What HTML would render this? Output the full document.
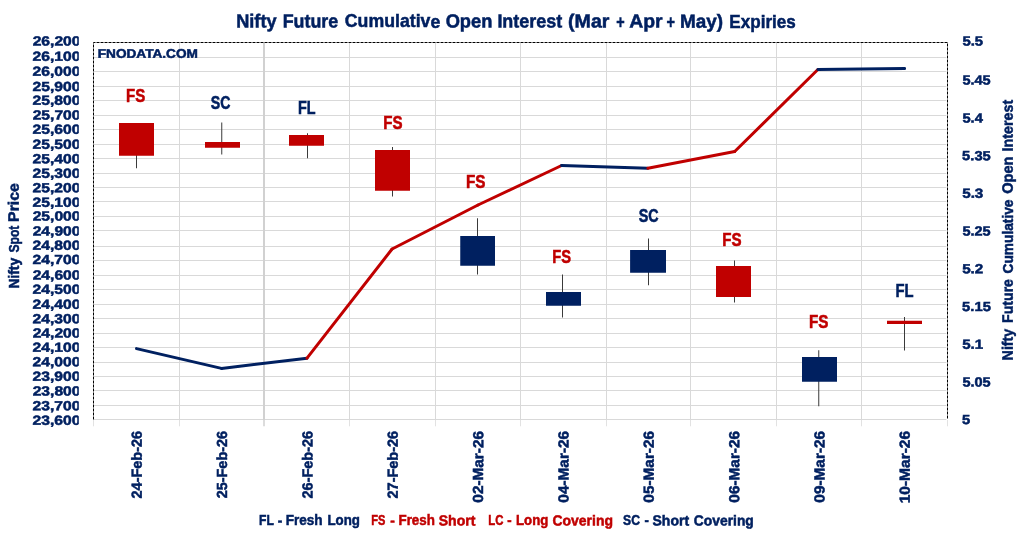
<!DOCTYPE html>
<html lang="en"><head><meta charset="utf-8"><title>Nifty Future Cumulative Open Interest</title>
<style>html,body{margin:0;padding:0;background:#fff;overflow:hidden}svg{display:block}text{white-space:pre}</style></head>
<body>
<svg width="1024" height="538" viewBox="0 0 1024 538">
<defs><clipPath id="lclip"><rect x="0" y="0" width="78.8" height="538"/></clipPath></defs>
<rect width="1024" height="538" fill="#fff"/>
<line x1="94" x2="946.3" y1="57.5" y2="57.5" stroke="#D9D9D9" stroke-width="1"/>
<line x1="94" x2="946.3" y1="71.5" y2="71.5" stroke="#D9D9D9" stroke-width="1"/>
<line x1="94" x2="946.3" y1="86.5" y2="86.5" stroke="#D9D9D9" stroke-width="1"/>
<line x1="94" x2="946.3" y1="100.5" y2="100.5" stroke="#D9D9D9" stroke-width="1"/>
<line x1="94" x2="946.3" y1="115.5" y2="115.5" stroke="#D9D9D9" stroke-width="1"/>
<line x1="94" x2="946.3" y1="129.5" y2="129.5" stroke="#D9D9D9" stroke-width="1"/>
<line x1="94" x2="946.3" y1="144.5" y2="144.5" stroke="#D9D9D9" stroke-width="1"/>
<line x1="94" x2="946.3" y1="158.5" y2="158.5" stroke="#D9D9D9" stroke-width="1"/>
<line x1="94" x2="946.3" y1="173.5" y2="173.5" stroke="#D9D9D9" stroke-width="1"/>
<line x1="94" x2="946.3" y1="187.5" y2="187.5" stroke="#D9D9D9" stroke-width="1"/>
<line x1="94" x2="946.3" y1="201.5" y2="201.5" stroke="#D9D9D9" stroke-width="1"/>
<line x1="94" x2="946.3" y1="216.5" y2="216.5" stroke="#D9D9D9" stroke-width="1"/>
<line x1="94" x2="946.3" y1="230.5" y2="230.5" stroke="#D9D9D9" stroke-width="1"/>
<line x1="94" x2="946.3" y1="246.5" y2="246.5" stroke="#D9D9D9" stroke-width="1"/>
<line x1="94" x2="946.3" y1="260.5" y2="260.5" stroke="#D9D9D9" stroke-width="1"/>
<line x1="94" x2="946.3" y1="275.5" y2="275.5" stroke="#D9D9D9" stroke-width="1"/>
<line x1="94" x2="946.3" y1="289.5" y2="289.5" stroke="#D9D9D9" stroke-width="1"/>
<line x1="94" x2="946.3" y1="304.5" y2="304.5" stroke="#D9D9D9" stroke-width="1"/>
<line x1="94" x2="946.3" y1="318.5" y2="318.5" stroke="#D9D9D9" stroke-width="1"/>
<line x1="94" x2="946.3" y1="333.5" y2="333.5" stroke="#D9D9D9" stroke-width="1"/>
<line x1="94" x2="946.3" y1="347.5" y2="347.5" stroke="#D9D9D9" stroke-width="1"/>
<line x1="94" x2="946.3" y1="362.5" y2="362.5" stroke="#D9D9D9" stroke-width="1"/>
<line x1="94" x2="946.3" y1="376.5" y2="376.5" stroke="#D9D9D9" stroke-width="1"/>
<line x1="94" x2="946.3" y1="390.5" y2="390.5" stroke="#D9D9D9" stroke-width="1"/>
<line x1="94" x2="946.3" y1="405.5" y2="405.5" stroke="#D9D9D9" stroke-width="1"/>
<line x1="94" x2="946.3" y1="419.5" y2="419.5" stroke="#D9D9D9" stroke-width="1"/>
<line x1="93.5" x2="93.5" y1="420" y2="426.3" stroke="#E2E2E2" stroke-width="1"/>
<line x1="179.5" x2="179.5" y1="43" y2="420" stroke="#D9D9D9" stroke-width="1"/>
<line x1="179.5" x2="179.5" y1="420" y2="426.3" stroke="#E2E2E2" stroke-width="1"/>
<line x1="264.0" x2="264.0" y1="43" y2="420" stroke="#D1D1D1" stroke-width="2"/>
<line x1="264.0" x2="264.0" y1="420" y2="426.3" stroke="#DCDCDC" stroke-width="2"/>
<line x1="349.5" x2="349.5" y1="43" y2="420" stroke="#D9D9D9" stroke-width="1"/>
<line x1="349.5" x2="349.5" y1="420" y2="426.3" stroke="#E2E2E2" stroke-width="1"/>
<line x1="435.5" x2="435.5" y1="43" y2="420" stroke="#D9D9D9" stroke-width="1"/>
<line x1="435.5" x2="435.5" y1="420" y2="426.3" stroke="#E2E2E2" stroke-width="1"/>
<line x1="520.5" x2="520.5" y1="43" y2="420" stroke="#D9D9D9" stroke-width="1"/>
<line x1="520.5" x2="520.5" y1="420" y2="426.3" stroke="#E2E2E2" stroke-width="1"/>
<line x1="606.5" x2="606.5" y1="43" y2="420" stroke="#D9D9D9" stroke-width="1"/>
<line x1="606.5" x2="606.5" y1="420" y2="426.3" stroke="#E2E2E2" stroke-width="1"/>
<line x1="690.5" x2="690.5" y1="43" y2="420" stroke="#D9D9D9" stroke-width="1"/>
<line x1="690.5" x2="690.5" y1="420" y2="426.3" stroke="#E2E2E2" stroke-width="1"/>
<line x1="776.5" x2="776.5" y1="43" y2="420" stroke="#D9D9D9" stroke-width="1"/>
<line x1="776.5" x2="776.5" y1="420" y2="426.3" stroke="#E2E2E2" stroke-width="1"/>
<line x1="861.5" x2="861.5" y1="43" y2="420" stroke="#D9D9D9" stroke-width="1"/>
<line x1="861.5" x2="861.5" y1="420" y2="426.3" stroke="#E2E2E2" stroke-width="1"/>
<line x1="947.5" x2="947.5" y1="420" y2="426.3" stroke="#E2E2E2" stroke-width="1"/>
<path d="M93.5 419.5 V42.5 H947.5 V419.5" fill="none" stroke="#000" stroke-width="1" stroke-dasharray="3 1"/>
<line x1="136.5" y1="348.6" x2="221.5" y2="368.4" stroke="#002060" stroke-width="3" stroke-linecap="round"/>
<line x1="221.5" y1="368.4" x2="307.0" y2="358.2" stroke="#002060" stroke-width="3" stroke-linecap="round"/>
<line x1="307.0" y1="358.2" x2="392.1" y2="249" stroke="#C00000" stroke-width="3" stroke-linecap="round"/>
<line x1="392.1" y1="249" x2="478" y2="205" stroke="#C00000" stroke-width="3" stroke-linecap="round"/>
<line x1="478" y1="205" x2="561.6" y2="165.5" stroke="#C00000" stroke-width="3" stroke-linecap="round"/>
<line x1="561.6" y1="165.5" x2="647.9" y2="168.3" stroke="#002060" stroke-width="3" stroke-linecap="round"/>
<line x1="647.9" y1="168.3" x2="734.7" y2="151.5" stroke="#C00000" stroke-width="3" stroke-linecap="round"/>
<line x1="734.7" y1="151.5" x2="817.9" y2="69.5" stroke="#C00000" stroke-width="3" stroke-linecap="round"/>
<line x1="817.9" y1="69.5" x2="904.6" y2="68.4" stroke="#002060" stroke-width="3" stroke-linecap="round"/>
<line x1="136.5" x2="136.5" y1="123" y2="168.25" stroke="#3a3a3a" stroke-width="1"/>
<rect x="119" y="123" width="35" height="32.75" fill="#C00000"/>
<line x1="221.75" x2="221.75" y1="122.5" y2="154.5" stroke="#3a3a3a" stroke-width="1"/>
<rect x="205" y="142" width="35" height="5.75" fill="#C00000"/>
<line x1="307.5" x2="307.5" y1="133.25" y2="158.25" stroke="#3a3a3a" stroke-width="1"/>
<rect x="289" y="135" width="35" height="10.75" fill="#C00000"/>
<line x1="392.5" x2="392.5" y1="147" y2="196.5" stroke="#3a3a3a" stroke-width="1"/>
<rect x="375" y="150" width="35" height="40.75" fill="#C00000"/>
<line x1="477.5" x2="477.5" y1="218.25" y2="274.5" stroke="#3a3a3a" stroke-width="1"/>
<rect x="460.25" y="236" width="34.75" height="29.75" fill="#002060"/>
<line x1="562.5" x2="562.5" y1="274.5" y2="317.5" stroke="#3a3a3a" stroke-width="1"/>
<rect x="546" y="292" width="35" height="13.75" fill="#002060"/>
<line x1="648.5" x2="648.5" y1="238.5" y2="285.25" stroke="#3a3a3a" stroke-width="1"/>
<rect x="630.1" y="250" width="35.89999999999998" height="22.75" fill="#002060"/>
<line x1="734.5" x2="734.5" y1="260.5" y2="302.5" stroke="#3a3a3a" stroke-width="1"/>
<rect x="716" y="266" width="35" height="31" fill="#C00000"/>
<line x1="818.75" x2="818.75" y1="350.25" y2="406.25" stroke="#3a3a3a" stroke-width="1"/>
<rect x="802" y="357" width="35" height="24.75" fill="#002060"/>
<line x1="904.5" x2="904.5" y1="317" y2="350.5" stroke="#3a3a3a" stroke-width="1"/>
<rect x="887" y="320.75" width="35" height="3.25" fill="#C00000"/>
<g font-family="Liberation Sans, Arial, sans-serif" font-weight="bold">
<text transform="translate(516.1,27.55) skewY(0.03)" font-size="19.0" fill="#002060" stroke="#002060" stroke-width="0.5"><tspan x="-279.96" textLength="40.43" lengthAdjust="spacingAndGlyphs">Nifty</tspan> <tspan x="-233.47" textLength="55.59" lengthAdjust="spacingAndGlyphs">Future</tspan> <tspan x="-171.28" textLength="95.47" lengthAdjust="spacingAndGlyphs">Cumulative</tspan> <tspan x="-70.46" textLength="46.75" lengthAdjust="spacingAndGlyphs">Open</tspan> <tspan x="-18.73" textLength="64.92" lengthAdjust="spacingAndGlyphs">Interest</tspan> <tspan x="51.96" textLength="41.47" lengthAdjust="spacingAndGlyphs">(Mar</tspan> <tspan x="100.16" textLength="8.42" lengthAdjust="spacingAndGlyphs">+</tspan> <tspan x="113.17" textLength="33.43" lengthAdjust="spacingAndGlyphs">Apr</tspan> <tspan x="150.52" textLength="8.48" lengthAdjust="spacingAndGlyphs">+</tspan> <tspan x="163.89" textLength="43.14" lengthAdjust="spacingAndGlyphs">May)</tspan> <tspan x="213.27" textLength="66.46" lengthAdjust="spacingAndGlyphs">Expiries</tspan></text>
<text transform="translate(147.8,57.70) skewY(0.03)" font-size="12.4" fill="#002060" stroke="#002060" stroke-width="0.5"><tspan x="-50.00" textLength="100.03" lengthAdjust="spacingAndGlyphs">FNODATA.COM</tspan></text>
<text transform="translate(135.9,101.85) skewY(0.03)" font-size="18.0" fill="#C00000" stroke="#C00000" stroke-width="0.55"><tspan x="-9.79" textLength="19.17" lengthAdjust="spacingAndGlyphs">FS</tspan></text>
<text transform="translate(220.4,109.45) skewY(0.03)" font-size="18.0" fill="#002060" stroke="#002060" stroke-width="0.55"><tspan x="-9.71" textLength="19.65" lengthAdjust="spacingAndGlyphs">SC</tspan></text>
<text transform="translate(307.1,114.00) skewY(0.03)" font-size="18.0" fill="#002060" stroke="#002060" stroke-width="0.55"><tspan x="-9.20" textLength="17.58" lengthAdjust="spacingAndGlyphs">FL</tspan></text>
<text transform="translate(393.1,129.15) skewY(0.03)" font-size="18.0" fill="#C00000" stroke="#C00000" stroke-width="0.55"><tspan x="-9.88" textLength="19.26" lengthAdjust="spacingAndGlyphs">FS</tspan></text>
<text transform="translate(475.8,187.90) skewY(0.03)" font-size="18.0" fill="#C00000" stroke="#C00000" stroke-width="0.55"><tspan x="-9.82" textLength="19.52" lengthAdjust="spacingAndGlyphs">FS</tspan></text>
<text transform="translate(561.8,263.15) skewY(0.03)" font-size="18.0" fill="#C00000" stroke="#C00000" stroke-width="0.55"><tspan x="-9.58" textLength="18.74" lengthAdjust="spacingAndGlyphs">FS</tspan></text>
<text transform="translate(648.6,222.45) skewY(0.03)" font-size="18.0" fill="#002060" stroke="#002060" stroke-width="0.55"><tspan x="-9.94" textLength="19.88" lengthAdjust="spacingAndGlyphs">SC</tspan></text>
<text transform="translate(732.0,245.75) skewY(0.03)" font-size="18.0" fill="#C00000" stroke="#C00000" stroke-width="0.55"><tspan x="-9.77" textLength="19.31" lengthAdjust="spacingAndGlyphs">FS</tspan></text>
<text transform="translate(819.0,328.15) skewY(0.03)" font-size="18.0" fill="#C00000" stroke="#C00000" stroke-width="0.55"><tspan x="-10.00" textLength="19.44" lengthAdjust="spacingAndGlyphs">FS</tspan></text>
<text transform="translate(904.7,297.00) skewY(0.03)" font-size="18.0" fill="#002060" stroke="#002060" stroke-width="0.55"><tspan x="-9.28" textLength="18.06" lengthAdjust="spacingAndGlyphs">FL</tspan></text>
<g clip-path="url(#lclip)"><text transform="translate(56.7,45.55) skewY(0.03)" font-size="13.2" fill="#002060" stroke="#002060" stroke-width="0.5"><tspan x="-24.02" textLength="47.80" lengthAdjust="spacingAndGlyphs">26,200</tspan></text></g>
<g clip-path="url(#lclip)"><text transform="translate(56.7,60.65) skewY(0.03)" font-size="13.2" fill="#002060" stroke="#002060" stroke-width="0.5"><tspan x="-24.18" textLength="47.80" lengthAdjust="spacingAndGlyphs">26,100</tspan></text></g>
<g clip-path="url(#lclip)"><text transform="translate(56.7,75.85) skewY(0.03)" font-size="13.2" fill="#002060" stroke="#002060" stroke-width="0.5"><tspan x="-24.18" textLength="47.80" lengthAdjust="spacingAndGlyphs">26,000</tspan></text></g>
<g clip-path="url(#lclip)"><text transform="translate(56.7,90.95) skewY(0.03)" font-size="13.2" fill="#002060" stroke="#002060" stroke-width="0.5"><tspan x="-24.17" textLength="47.80" lengthAdjust="spacingAndGlyphs">25,900</tspan></text></g>
<g clip-path="url(#lclip)"><text transform="translate(56.7,104.85) skewY(0.03)" font-size="13.2" fill="#002060" stroke="#002060" stroke-width="0.5"><tspan x="-24.18" textLength="47.80" lengthAdjust="spacingAndGlyphs">25,800</tspan></text></g>
<g clip-path="url(#lclip)"><text transform="translate(56.7,119.45) skewY(0.03)" font-size="13.2" fill="#002060" stroke="#002060" stroke-width="0.5"><tspan x="-24.02" textLength="47.80" lengthAdjust="spacingAndGlyphs">25,700</tspan></text></g>
<g clip-path="url(#lclip)"><text transform="translate(56.7,133.75) skewY(0.03)" font-size="13.2" fill="#002060" stroke="#002060" stroke-width="0.5"><tspan x="-24.18" textLength="47.80" lengthAdjust="spacingAndGlyphs">25,600</tspan></text></g>
<g clip-path="url(#lclip)"><text transform="translate(56.7,148.65) skewY(0.03)" font-size="13.2" fill="#002060" stroke="#002060" stroke-width="0.5"><tspan x="-24.18" textLength="47.80" lengthAdjust="spacingAndGlyphs">25,500</tspan></text></g>
<g clip-path="url(#lclip)"><text transform="translate(56.7,163.15) skewY(0.03)" font-size="13.2" fill="#002060" stroke="#002060" stroke-width="0.5"><tspan x="-24.18" textLength="47.80" lengthAdjust="spacingAndGlyphs">25,400</tspan></text></g>
<g clip-path="url(#lclip)"><text transform="translate(56.7,177.65) skewY(0.03)" font-size="13.2" fill="#002060" stroke="#002060" stroke-width="0.5"><tspan x="-24.18" textLength="47.80" lengthAdjust="spacingAndGlyphs">25,300</tspan></text></g>
<g clip-path="url(#lclip)"><text transform="translate(56.7,192.15) skewY(0.03)" font-size="13.2" fill="#002060" stroke="#002060" stroke-width="0.5"><tspan x="-24.18" textLength="47.80" lengthAdjust="spacingAndGlyphs">25,200</tspan></text></g>
<g clip-path="url(#lclip)"><text transform="translate(56.7,206.85) skewY(0.03)" font-size="13.2" fill="#002060" stroke="#002060" stroke-width="0.5"><tspan x="-24.18" textLength="47.80" lengthAdjust="spacingAndGlyphs">25,100</tspan></text></g>
<g clip-path="url(#lclip)"><text transform="translate(56.7,220.55) skewY(0.03)" font-size="13.2" fill="#002060" stroke="#002060" stroke-width="0.5"><tspan x="-24.02" textLength="47.80" lengthAdjust="spacingAndGlyphs">25,000</tspan></text></g>
<g clip-path="url(#lclip)"><text transform="translate(56.7,235.45) skewY(0.03)" font-size="13.2" fill="#002060" stroke="#002060" stroke-width="0.5"><tspan x="-24.02" textLength="47.80" lengthAdjust="spacingAndGlyphs">24,900</tspan></text></g>
<g clip-path="url(#lclip)"><text transform="translate(56.7,249.75) skewY(0.03)" font-size="13.2" fill="#002060" stroke="#002060" stroke-width="0.5"><tspan x="-24.18" textLength="47.80" lengthAdjust="spacingAndGlyphs">24,800</tspan></text></g>
<g clip-path="url(#lclip)"><text transform="translate(56.7,263.95) skewY(0.03)" font-size="13.2" fill="#002060" stroke="#002060" stroke-width="0.5"><tspan x="-24.17" textLength="47.80" lengthAdjust="spacingAndGlyphs">24,700</tspan></text></g>
<g clip-path="url(#lclip)"><text transform="translate(56.7,279.55) skewY(0.03)" font-size="13.2" fill="#002060" stroke="#002060" stroke-width="0.5"><tspan x="-24.02" textLength="47.80" lengthAdjust="spacingAndGlyphs">24,600</tspan></text></g>
<g clip-path="url(#lclip)"><text transform="translate(56.7,293.65) skewY(0.03)" font-size="13.2" fill="#002060" stroke="#002060" stroke-width="0.5"><tspan x="-24.18" textLength="47.80" lengthAdjust="spacingAndGlyphs">24,500</tspan></text></g>
<g clip-path="url(#lclip)"><text transform="translate(56.7,308.75) skewY(0.03)" font-size="13.2" fill="#002060" stroke="#002060" stroke-width="0.5"><tspan x="-24.18" textLength="47.80" lengthAdjust="spacingAndGlyphs">24,400</tspan></text></g>
<g clip-path="url(#lclip)"><text transform="translate(56.7,323.25) skewY(0.03)" font-size="13.2" fill="#002060" stroke="#002060" stroke-width="0.5"><tspan x="-24.18" textLength="47.80" lengthAdjust="spacingAndGlyphs">24,300</tspan></text></g>
<g clip-path="url(#lclip)"><text transform="translate(56.7,337.55) skewY(0.03)" font-size="13.2" fill="#002060" stroke="#002060" stroke-width="0.5"><tspan x="-24.02" textLength="47.80" lengthAdjust="spacingAndGlyphs">24,200</tspan></text></g>
<g clip-path="url(#lclip)"><text transform="translate(56.7,351.85) skewY(0.03)" font-size="13.2" fill="#002060" stroke="#002060" stroke-width="0.5"><tspan x="-24.18" textLength="47.80" lengthAdjust="spacingAndGlyphs">24,100</tspan></text></g>
<g clip-path="url(#lclip)"><text transform="translate(56.7,366.35) skewY(0.03)" font-size="13.2" fill="#002060" stroke="#002060" stroke-width="0.5"><tspan x="-24.18" textLength="47.80" lengthAdjust="spacingAndGlyphs">24,000</tspan></text></g>
<g clip-path="url(#lclip)"><text transform="translate(56.7,380.65) skewY(0.03)" font-size="13.2" fill="#002060" stroke="#002060" stroke-width="0.5"><tspan x="-24.18" textLength="47.80" lengthAdjust="spacingAndGlyphs">23,900</tspan></text></g>
<g clip-path="url(#lclip)"><text transform="translate(56.7,395.55) skewY(0.03)" font-size="13.2" fill="#002060" stroke="#002060" stroke-width="0.5"><tspan x="-24.02" textLength="47.80" lengthAdjust="spacingAndGlyphs">23,800</tspan></text></g>
<g clip-path="url(#lclip)"><text transform="translate(56.7,410.25) skewY(0.03)" font-size="13.2" fill="#002060" stroke="#002060" stroke-width="0.5"><tspan x="-24.18" textLength="47.80" lengthAdjust="spacingAndGlyphs">23,700</tspan></text></g>
<g clip-path="url(#lclip)"><text transform="translate(56.7,424.85) skewY(0.03)" font-size="13.2" fill="#002060" stroke="#002060" stroke-width="0.5"><tspan x="-24.18" textLength="47.80" lengthAdjust="spacingAndGlyphs">23,600</tspan></text></g>
<text transform="translate(972.8,45.40) skewY(0.03)" font-size="13.2" fill="#002060" stroke="#002060" stroke-width="0.5"><tspan x="-10.41" textLength="20.72" lengthAdjust="spacingAndGlyphs">5.5</tspan></text>
<text transform="translate(976.6,84.41) skewY(0.03)" font-size="13.2" fill="#002060" stroke="#002060" stroke-width="0.5"><tspan x="-14.16" textLength="28.22" lengthAdjust="spacingAndGlyphs">5.45</tspan></text>
<text transform="translate(972.8,122.42) skewY(0.03)" font-size="13.2" fill="#002060" stroke="#002060" stroke-width="0.5"><tspan x="-10.36" textLength="20.40" lengthAdjust="spacingAndGlyphs">5.4</tspan></text>
<text transform="translate(976.6,160.13) skewY(0.03)" font-size="13.2" fill="#002060" stroke="#002060" stroke-width="0.5"><tspan x="-14.49" textLength="28.63" lengthAdjust="spacingAndGlyphs">5.35</tspan></text>
<text transform="translate(972.8,197.84) skewY(0.03)" font-size="13.2" fill="#002060" stroke="#002060" stroke-width="0.5"><tspan x="-10.63" textLength="21.15" lengthAdjust="spacingAndGlyphs">5.3</tspan></text>
<text transform="translate(976.6,235.55) skewY(0.03)" font-size="13.2" fill="#002060" stroke="#002060" stroke-width="0.5"><tspan x="-14.16" textLength="28.22" lengthAdjust="spacingAndGlyphs">5.25</tspan></text>
<text transform="translate(972.8,273.26) skewY(0.03)" font-size="13.2" fill="#002060" stroke="#002060" stroke-width="0.5"><tspan x="-10.66" textLength="21.20" lengthAdjust="spacingAndGlyphs">5.2</tspan></text>
<text transform="translate(976.6,310.97) skewY(0.03)" font-size="13.2" fill="#002060" stroke="#002060" stroke-width="0.5"><tspan x="-14.49" textLength="28.74" lengthAdjust="spacingAndGlyphs">5.15</tspan></text>
<text transform="translate(972.8,348.68) skewY(0.03)" font-size="13.2" fill="#002060" stroke="#002060" stroke-width="0.5"><tspan x="-10.62" textLength="20.96" lengthAdjust="spacingAndGlyphs">5.1</tspan></text>
<text transform="translate(976.6,386.39) skewY(0.03)" font-size="13.2" fill="#002060" stroke="#002060" stroke-width="0.5"><tspan x="-14.16" textLength="28.22" lengthAdjust="spacingAndGlyphs">5.05</tspan></text>
<text transform="translate(966.4,424.10) skewY(0.03)" font-size="13.2" fill="#002060" stroke="#002060" stroke-width="0.5"><tspan x="-4.29" textLength="8.22" lengthAdjust="spacingAndGlyphs">5</tspan></text>
<text transform="translate(141.77,464.6) rotate(-90) skewY(0.03)" font-size="14.6" fill="#002060" stroke="#002060" stroke-width="0.5"><tspan x="-33.82" textLength="67.46" lengthAdjust="spacingAndGlyphs">24-Feb-26</tspan></text>
<text transform="translate(227.11,464.6) rotate(-90) skewY(0.03)" font-size="14.6" fill="#002060" stroke="#002060" stroke-width="0.5"><tspan x="-33.73" textLength="67.40" lengthAdjust="spacingAndGlyphs">25-Feb-26</tspan></text>
<text transform="translate(312.45,464.6) rotate(-90) skewY(0.03)" font-size="14.6" fill="#002060" stroke="#002060" stroke-width="0.5"><tspan x="-33.85" textLength="67.51" lengthAdjust="spacingAndGlyphs">26-Feb-26</tspan></text>
<text transform="translate(397.79,464.6) rotate(-90) skewY(0.03)" font-size="14.6" fill="#002060" stroke="#002060" stroke-width="0.5"><tspan x="-33.82" textLength="67.46" lengthAdjust="spacingAndGlyphs">27-Feb-26</tspan></text>
<text transform="translate(483.13,466.9) rotate(-90) skewY(0.03)" font-size="14.6" fill="#002060" stroke="#002060" stroke-width="0.5"><tspan x="-35.77" textLength="71.72" lengthAdjust="spacingAndGlyphs">02-Mar-26</tspan></text>
<text transform="translate(568.47,466.9) rotate(-90) skewY(0.03)" font-size="14.6" fill="#002060" stroke="#002060" stroke-width="0.5"><tspan x="-35.76" textLength="71.75" lengthAdjust="spacingAndGlyphs">04-Mar-26</tspan></text>
<text transform="translate(653.81,466.9) rotate(-90) skewY(0.03)" font-size="14.6" fill="#002060" stroke="#002060" stroke-width="0.5"><tspan x="-35.78" textLength="71.74" lengthAdjust="spacingAndGlyphs">05-Mar-26</tspan></text>
<text transform="translate(739.15,466.9) rotate(-90) skewY(0.03)" font-size="14.6" fill="#002060" stroke="#002060" stroke-width="0.5"><tspan x="-35.78" textLength="71.73" lengthAdjust="spacingAndGlyphs">06-Mar-26</tspan></text>
<text transform="translate(824.49,466.9) rotate(-90) skewY(0.03)" font-size="14.6" fill="#002060" stroke="#002060" stroke-width="0.5"><tspan x="-35.76" textLength="71.75" lengthAdjust="spacingAndGlyphs">09-Mar-26</tspan></text>
<text transform="translate(909.83,466.9) rotate(-90) skewY(0.03)" font-size="14.6" fill="#002060" stroke="#002060" stroke-width="0.5"><tspan x="-36.48" textLength="72.51" lengthAdjust="spacingAndGlyphs">10-Mar-26</tspan></text>
<text transform="translate(18.65,235.6) rotate(-90) skewY(0.03)" font-size="15.1" fill="#002060" stroke="#002060" stroke-width="0.5"><tspan x="-53.03" textLength="30.83" lengthAdjust="spacingAndGlyphs">Nifty</tspan> <tspan x="-16.94" textLength="26.92" lengthAdjust="spacingAndGlyphs">Spot</tspan> <tspan x="13.68" textLength="38.86" lengthAdjust="spacingAndGlyphs">Price</tspan></text>
<text transform="translate(1012.80,229.8) rotate(-90) skewY(0.03)" font-size="15.1" fill="#002060" stroke="#002060" stroke-width="0.5"><tspan x="-130.61" textLength="31.69" lengthAdjust="spacingAndGlyphs">Nifty</tspan> <tspan x="-93.10" textLength="43.86" lengthAdjust="spacingAndGlyphs">Future</tspan> <tspan x="-43.70" textLength="73.97" lengthAdjust="spacingAndGlyphs">Cumulative</tspan> <tspan x="35.94" textLength="37.39" lengthAdjust="spacingAndGlyphs">Open</tspan> <tspan x="78.41" textLength="51.56" lengthAdjust="spacingAndGlyphs">Interest</tspan></text>
<text transform="translate(309.5,525.40) skewY(0.03)" font-size="14.6" fill="#002060" stroke="#002060" stroke-width="0.5"><tspan x="-50.51" textLength="14.86" lengthAdjust="spacingAndGlyphs">FL</tspan> <tspan x="-31.72" textLength="4.56" lengthAdjust="spacingAndGlyphs">-</tspan> <tspan x="-23.83" textLength="36.92" lengthAdjust="spacingAndGlyphs">Fresh</tspan> <tspan x="17.91" textLength="32.50" lengthAdjust="spacingAndGlyphs">Long</tspan></text>
<text transform="translate(423.6,525.40) skewY(0.03)" font-size="14.6" fill="#C00000" stroke="#C00000" stroke-width="0.5"><tspan x="-52.44" textLength="14.13" lengthAdjust="spacingAndGlyphs">FS</tspan> <tspan x="-33.43" textLength="4.62" lengthAdjust="spacingAndGlyphs">-</tspan> <tspan x="-25.12" textLength="36.36" lengthAdjust="spacingAndGlyphs">Fresh</tspan> <tspan x="15.05" textLength="36.76" lengthAdjust="spacingAndGlyphs">Short</tspan></text>
<text transform="translate(550.6,525.40) skewY(0.03)" font-size="14.6" fill="#C00000" stroke="#C00000" stroke-width="0.5"><tspan x="-62.35" textLength="15.15" lengthAdjust="spacingAndGlyphs">LC</tspan> <tspan x="-43.25" textLength="4.36" lengthAdjust="spacingAndGlyphs">-</tspan> <tspan x="-34.61" textLength="32.32" lengthAdjust="spacingAndGlyphs">Long</tspan> <tspan x="1.89" textLength="60.50" lengthAdjust="spacingAndGlyphs">Covering</tspan></text>
<text transform="translate(688.1,525.40) skewY(0.03)" font-size="14.6" fill="#002060" stroke="#002060" stroke-width="0.5"><tspan x="-64.99" textLength="16.92" lengthAdjust="spacingAndGlyphs">SC</tspan> <tspan x="-43.51" textLength="4.36" lengthAdjust="spacingAndGlyphs">-</tspan> <tspan x="-35.59" textLength="36.56" lengthAdjust="spacingAndGlyphs">Short</tspan> <tspan x="5.66" textLength="60.05" lengthAdjust="spacingAndGlyphs">Covering</tspan></text>
</g>
</svg>
</body></html>
